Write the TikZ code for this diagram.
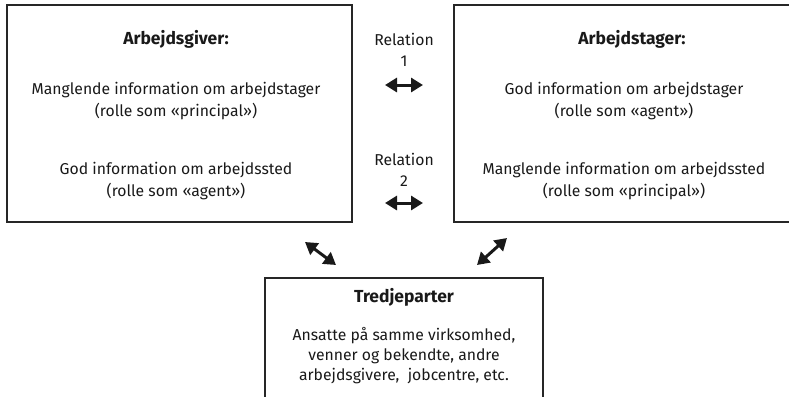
\documentclass[tikz,border=0pt]{standalone}
\usepackage{fontspec}
\setmainfont{Fira Sans}
\usetikzlibrary{arrows.meta}
\begin{document}
\begin{tikzpicture}[x=1bp,y=-1bp,
  boxstyle/.style={draw=black!85,line width=2.6bp,rectangle,inner sep=0pt},
  txt/.style={font=\fontsize{15.8}{21.5}\selectfont,align=center,inner sep=0pt,text=black!90},
  ttl/.style={font=\fontsize{17.5}{21}\selectfont\bfseries,inner sep=0pt,text=black!90},
  dbl/.style={line width=3bp,black!90,{Triangle[width=14bp,length=12bp]}-{Triangle[width=14bp,length=12bp]}}]
\clip (0,0) rectangle (789,396);
\useasboundingbox (0,0) rectangle (789,396);
\node[boxstyle,minimum width=345bp,minimum height=217bp] (giver) at (179.5,113.5) {};
\node[boxstyle,minimum width=340bp,minimum height=217bp] (tager) at (624,113.5) {};
\node[boxstyle,minimum width=278bp,minimum height=130bp] (tredje) at (404,343) {};
\node[ttl] (gT) at (176,39) {Arbejdsgiver:};
\node[txt] (g1) at (176,101) {Manglende information om arbejdstager\\(rolle som «principal»)};
\node[txt] (g2) at (176,181) {God information om arbejdssted\\(rolle som «agent»)};
\node[ttl] (tT) at (632,39) {Arbejdstager:};
\node[txt] (t1) at (624,101) {God information om arbejdstager\\(rolle som «agent»)};
\node[txt] (t2) at (624,181) {Manglende information om arbejdssted\\(rolle som «principal»)};
\node[ttl] (dT) at (404,297) {Tredjeparter};
\node[txt,font=\fontsize{15.8}{20}\selectfont] (d1) at (404,356) {Ansatte på samme virksomhed,\\venner og bekendte, andre\\arbejdsgivere,~ jobcentre, etc.};
\node[txt] (r1) at (404,50) {Relation\\1};
\node[txt] (r2) at (404,170) {Relation\\2};
\coordinate (a1l) at (385,85); \coordinate (a1r) at (423,85);
\coordinate (a2l) at (385,203); \coordinate (a2r) at (423,203);
\coordinate (d1a) at (305,242); \coordinate (d1b) at (336,265);
\coordinate (d2a) at (477,265); \coordinate (d2b) at (507,238);
\draw[dbl] (a1l) -- (a1r);
\draw[dbl] (a2l) -- (a2r);
\draw[dbl] (d1a) -- (d1b);
\draw[dbl] (d2a) -- (d2b);
\end{tikzpicture}
\end{document}
